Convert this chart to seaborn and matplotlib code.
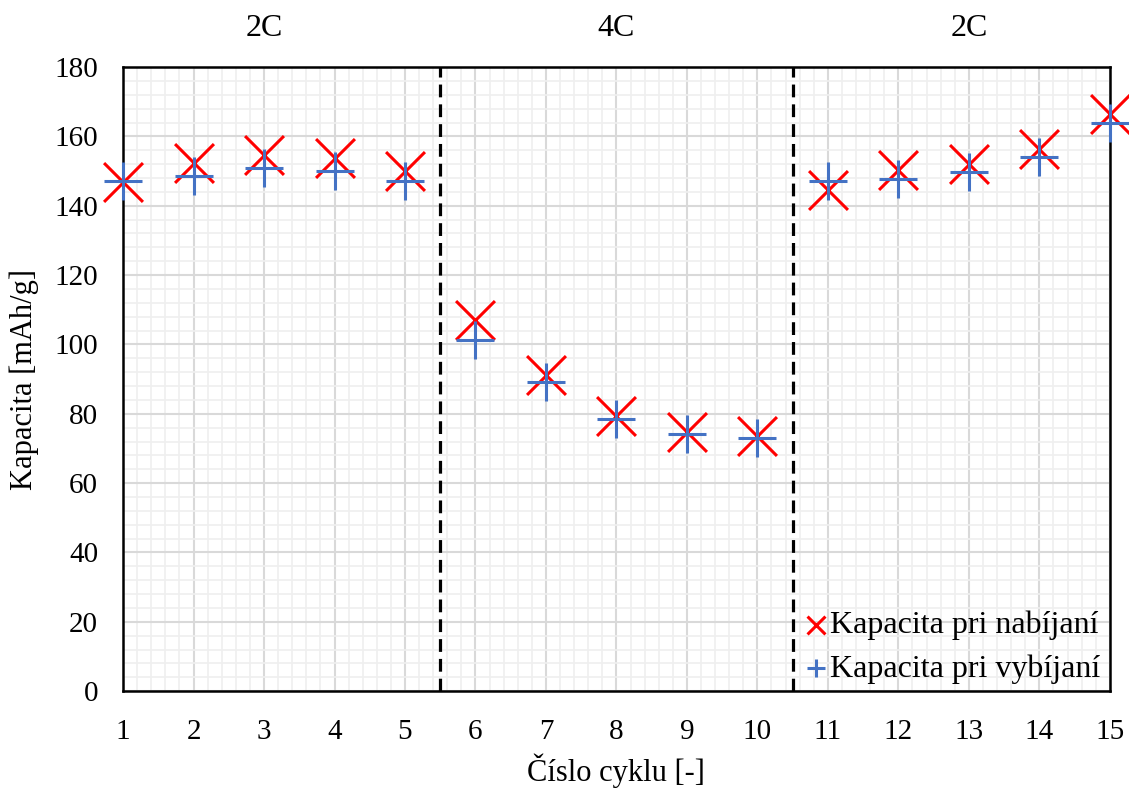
# Kapacita vs. cislo cyklu (2C / 4C / 2C)

import numpy as np
import pandas as pd

import matplotlib
matplotlib.use("Agg")
import matplotlib.pyplot as plt
from matplotlib.ticker import MultipleLocator
import seaborn as sns

sns.set_style("white")
plt.rcParams["font.family"] = ["Liberation Serif", "DejaVu Serif"]
plt.rcParams["text.color"] = "black"
plt.rcParams["xtick.color"] = "black"
plt.rcParams["ytick.color"] = "black"
plt.rcParams["axes.labelcolor"] = "black"

# ======================================================
# Data
# ======================================================

cycles = [1, 2, 3, 4, 5, 6, 7, 8, 9, 10, 11, 12, 13, 14, 15]

charge = [146.9, 152.3, 154.6, 153.7, 150.0,
          107.1, 91.1, 79.3, 74.8, 73.5,
          144.5, 150.3, 152.0, 156.4, 166.4]

discharge = [147.0, 148.6, 151.0, 150.1, 147.1,
             101.4, 89.1, 78.4, 74.2, 72.9,
             147.0, 147.8, 149.7, 154.2, 163.8]

rate_labels = ["2C", "4C", "2C"]
rate_centers = [3, 8, 13]
rate_bounds = [5.5, 10.5]

df = pd.DataFrame({
    "cyklus": cycles,
    "nabijanie": charge,
    "vybijanie": discharge,
})

# ======================================================
# Plot
# ======================================================

fig = plt.figure(figsize=(11.29, 7.89), dpi=100)
ax = fig.add_axes([0.109, 0.124, 0.874, 0.791])

ax.xaxis.set_minor_locator(MultipleLocator(0.2))
ax.yaxis.set_minor_locator(MultipleLocator(4))
ax.grid(which="minor", color="#efefef", linewidth=1.2)
ax.grid(which="major", color="#d9d9d9", linewidth=1.5)
ax.set_axisbelow(True)

for xb in rate_bounds:
    ax.axvline(xb, color="black", linestyle=(0, (4, 2.2)), linewidth=2.3)

sns.scatterplot(
    data=df, x="cyklus", y="nabijanie",
    marker="x", s=28**2, color="#ff0000", linewidth=2.2,
    clip_on=False, zorder=3, ax=ax, label="Kapacita pri nabíjaní"
)

sns.scatterplot(
    data=df, x="cyklus", y="vybijanie",
    marker="+", s=28**2, color="#4472c4", linewidth=2.2,
    clip_on=False, zorder=4, ax=ax, label="Kapacita pri vybíjaní"
)

ax.set_xlim(1, 15)
ax.set_ylim(0, 180)
ax.set_xticks(cycles)
ax.set_yticks(np.arange(0, 181, 20))
ax.tick_params(axis="both", which="both", length=0, labelsize=21)
ax.tick_params(axis="x", pad=20)
ax.tick_params(axis="y", pad=18)

for s in ax.spines.values():
    s.set_color("black")
    s.set_linewidth(1.8)

ax.set_xlabel("Číslo cyklu [-]", fontsize=22)
ax.set_ylabel("Kapacita [mAh/g]", fontsize=22)
ax.xaxis.set_label_coords(0.5, -0.10)
ax.yaxis.set_label_coords(-0.085, 0.5)

for lab, xc in zip(rate_labels, rate_centers):
    ax.text(xc, 1.0625, lab, transform=ax.get_xaxis_transform(),
            ha="center", va="center", fontsize=23)

ax.legend(
    loc="lower right", bbox_to_anchor=(1.013, -0.024),
    frameon=False, fontsize=23, handlelength=0.6,
    handletextpad=0.15, markerscale=0.46, labelspacing=0.45,
    borderaxespad=0.3
)

plt.savefig("out.png", dpi=100)
